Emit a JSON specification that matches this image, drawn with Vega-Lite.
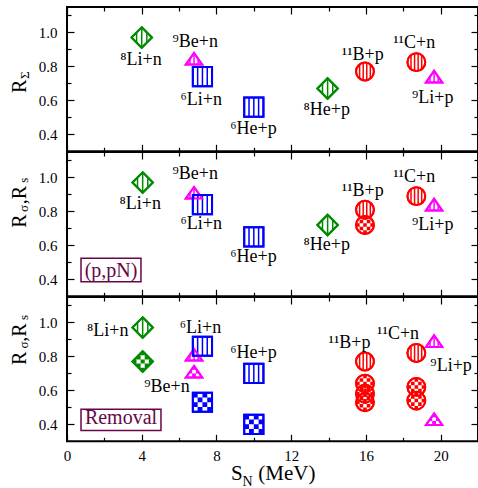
{
"$schema": "https://vega.github.io/schema/vega-lite/v6.json",
"padding": {"left": 8, "top": 5, "right": 0, "bottom": 0},
"bounds": "flush",
"spacing": 0,
"config": {
  "view": {"stroke": "black", "strokeWidth": 2},
  "axis": {"domain": false, "grid": false, "tickColor": "black", "tickWidth": 1.2, "labelFont": "Liberation Serif", "labelFontSize": 15, "labelColor": "black", "labelFlush": false, "titleFont": "Liberation Serif", "titleColor": "black", "titleFontWeight": "normal"},
  "text": {"font": "Liberation Serif"}
},
"datasets": {
  "p1": [
    {"x": 4.0, "y": 0.97, "sym": "diamond", "pat": "stripe"},
    {"x": 6.8, "y": 0.845, "sym": "triangle", "pat": "stripe"},
    {"x": 7.25, "y": 0.74, "sym": "square", "pat": "stripe"},
    {"x": 10.0, "y": 0.56, "sym": "square", "pat": "stripe"},
    {"x": 13.95, "y": 0.67, "sym": "diamond", "pat": "stripe"},
    {"x": 15.95, "y": 0.77, "sym": "circle", "pat": "stripe"},
    {"x": 18.7, "y": 0.825, "sym": "circle", "pat": "stripe"},
    {"x": 19.65, "y": 0.74, "sym": "triangle", "pat": "stripe"}
  ],
  "p2": [
    {"x": 4.05, "y": 0.97, "sym": "diamond", "pat": "stripe"},
    {"x": 6.8, "y": 0.91, "sym": "triangle", "pat": "stripe"},
    {"x": 7.25, "y": 0.84, "sym": "square", "pat": "stripe"},
    {"x": 10.0, "y": 0.65, "sym": "square", "pat": "stripe"},
    {"x": 13.95, "y": 0.72, "sym": "diamond", "pat": "stripe"},
    {"x": 15.95, "y": 0.81, "sym": "circle", "pat": "stripe"},
    {"x": 15.95, "y": 0.72, "sym": "circle", "pat": "checker"},
    {"x": 18.7, "y": 0.89, "sym": "circle", "pat": "stripe"},
    {"x": 19.65, "y": 0.84, "sym": "triangle", "pat": "stripe"}
  ],
  "p3": [
    {"x": 4.05, "y": 0.97, "sym": "diamond", "pat": "stripe"},
    {"x": 4.05, "y": 0.77, "sym": "diamond", "pat": "checker"},
    {"x": 6.8, "y": 0.81, "sym": "triangle", "pat": "stripe"},
    {"x": 6.8, "y": 0.71, "sym": "triangle", "pat": "checker"},
    {"x": 7.25, "y": 0.86, "sym": "square", "pat": "stripe"},
    {"x": 7.25, "y": 0.53, "sym": "square", "pat": "checker"},
    {"x": 10.0, "y": 0.70, "sym": "square", "pat": "stripe"},
    {"x": 10.0, "y": 0.40, "sym": "square", "pat": "checker"},
    {"x": 15.95, "y": 0.77, "sym": "circle", "pat": "stripe"},
    {"x": 15.95, "y": 0.64, "sym": "circle", "pat": "checker"},
    {"x": 15.95, "y": 0.58, "sym": "circle", "pat": "checker"},
    {"x": 15.95, "y": 0.53, "sym": "circle", "pat": "checker"},
    {"x": 18.7, "y": 0.82, "sym": "circle", "pat": "stripe"},
    {"x": 18.7, "y": 0.62, "sym": "circle", "pat": "checker"},
    {"x": 18.7, "y": 0.54, "sym": "circle", "pat": "checker"},
    {"x": 19.65, "y": 0.89, "sym": "triangle", "pat": "stripe"},
    {"x": 19.65, "y": 0.43, "sym": "triangle", "pat": "checker"}
  ],
  "l1": [
    {"lab": "⁸Li+n", "lx": 2.85, "ly": 0.806},
    {"lab": "⁹Be+n", "lx": 5.65, "ly": 0.914},
    {"lab": "⁶Li+n", "lx": 6.08, "ly": 0.575},
    {"lab": "⁶He+p", "lx": 8.74, "ly": 0.404},
    {"lab": "⁸He+p", "lx": 12.66, "ly": 0.516},
    {"lab": "¹¹B+p", "lx": 14.71, "ly": 0.839},
    {"lab": "¹¹C+n", "lx": 17.46, "ly": 0.908},
    {"lab": "⁹Li+p", "lx": 18.47, "ly": 0.584}
  ],
  "l2": [
    {"lab": "⁸Li+n", "lx": 2.81, "ly": 0.813},
    {"lab": "⁹Be+n", "lx": 5.65, "ly": 0.989},
    {"lab": "⁶Li+n", "lx": 6.08, "ly": 0.699},
    {"lab": "⁶He+p", "lx": 8.74, "ly": 0.503},
    {"lab": "⁸He+p", "lx": 12.66, "ly": 0.572},
    {"lab": "¹¹B+p", "lx": 14.71, "ly": 0.891},
    {"lab": "¹¹C+n", "lx": 17.46, "ly": 0.974},
    {"lab": "⁹Li+p", "lx": 18.47, "ly": 0.689}
  ],
  "l3": [
    {"lab": "⁸Li+n", "lx": 1.07, "ly": 0.92},
    {"lab": "⁶Li+n", "lx": 6.04, "ly": 0.935},
    {"lab": "⁶He+p", "lx": 8.74, "ly": 0.788},
    {"lab": "⁹Be+n", "lx": 4.14, "ly": 0.592},
    {"lab": "¹¹B+p", "lx": 14.0, "ly": 0.851},
    {"lab": "¹¹C+n", "lx": 16.6, "ly": 0.90},
    {"lab": "⁹Li+p", "lx": 19.45, "ly": 0.714}
  ],
  "b2": [{"t": "(p,pN)", "bx1": 0.75, "bx2": 3.96, "by1": 0.385, "by2": 0.524, "tx": 2.36, "ty": 0.415}],
  "b3": [{"t": "Removal", "bx1": 0.75, "bx2": 5.03, "by1": 0.363, "by2": 0.489, "tx": 2.89, "ty": 0.40}]
},
"vconcat": [
{
  "width": 411, "height": 144.3,
  "data": {"name": "p1"},
  "resolve": {"axis": {"x": "independent", "y": "independent"}, "scale": {"shape": "independent"}},
  "layer": [
    {
      "mark": {"type": "point", "filled": true, "fill": "white", "strokeWidth": 2, "opacity": 1},
      "encoding": {
        "x": {"field": "x", "type": "quantitative", "scale": {"domain": [0, 22], "nice": false, "zero": false}, "axis": {"orient": "bottom", "values": [0, 4, 8, 12, 16, 20], "tickSize": -7, "labels": false, "title": null}},
        "y": {"field": "y", "type": "quantitative", "scale": {"domain": [0.3, 1.15], "nice": false, "zero": false}, "axis": {"orient": "left", "values": [0.4, 0.6, 0.8, 1.0], "format": ".1f", "tickSize": -7, "labelPadding": 17, "title": "R", "titleFontSize": 20, "titleX": -41.6, "titleY": 85.5, "titleAlign": "left", "titleBaseline": "alphabetic", "titleAngle": 270}},
        "shape": {"field": "sym", "type": "nominal", "legend": null, "scale": {"domain": ["diamond", "square", "circle", "triangle"], "range": ["M0,-1L1,0L0,1L-1,0Z", "M-1,-1L1,-1L1,1L-1,1Z", "M-1,0A1,1,0,1,1,1,0A1,1,0,1,1,-1,0Z", "M0,-0.71L1,0.71L-1,0.71Z"]}},
        "size": {"field": "sym", "type": "nominal", "legend": null, "scale": {"domain": ["diamond", "square", "circle", "triangle"], "range": [420, 266, 361, 441]}},
        "stroke": {"field": "sym", "type": "nominal", "legend": null, "scale": {"domain": ["diamond", "square", "circle", "triangle"], "range": ["#008B00", "#0000FF", "#FF0000", "#FF00FF"]}}
      }
    },
    {
      "transform": [{"filter": "datum.pat === 'stripe'"}],
      "mark": {"type": "point", "filled": false, "strokeWidth": 1.5, "opacity": 1},
      "encoding": {
        "x": {"field": "x", "type": "quantitative", "axis": {"orient": "top", "values": [0, 4, 8, 12, 16, 20], "tickSize": -7, "labels": false, "title": null}},
        "y": {"field": "y", "type": "quantitative", "axis": {"orient": "right", "values": [0.4, 0.6, 0.8, 1.0], "tickSize": -7, "labels": false, "title": null}},
        "shape": {"field": "sym", "type": "nominal", "legend": null, "scale": {"domain": ["diamond", "square", "circle", "triangle"], "range": ["M-0.5,-0.5L-0.5,0.5M0,-1L0,1M0.5,-0.5L0.5,0.5", "M-0.5,-1L-0.5,1M0,-1L0,1M0.5,-1L0.5,1", "M-0.6,-0.8L-0.6,0.8M-0.2,-0.98L-0.2,0.98M0.2,-0.98L0.2,0.98M0.6,-0.8L0.6,0.8", "M-0.5,0L-0.5,0.71M0,-0.71L0,0.71M0.5,0L0.5,0.71"]}},
        "size": {"field": "sym", "type": "nominal", "legend": null},
        "stroke": {"field": "sym", "type": "nominal", "legend": null}
      }
    },
    {
      "transform": [{"filter": "datum.pat === 'checker'"}],
      "mark": {"type": "point", "filled": true, "strokeWidth": 0, "opacity": 1},
      "encoding": {
        "x": {"field": "x", "type": "quantitative", "axis": {"orient": "bottom", "values": [2, 6, 10, 14, 18], "tickSize": -4, "labels": false, "title": null}},
        "y": {"field": "y", "type": "quantitative", "axis": {"orient": "left", "values": [0.5, 0.7, 0.9, 1.1], "tickSize": -4, "labels": false, "title": "Σ", "titleFontSize": 13, "titleX": -39, "titleY": 71.5, "titleAlign": "left", "titleBaseline": "alphabetic", "titleAngle": 270}},
        "shape": {"field": "sym", "type": "nominal", "legend": null, "scale": {"domain": ["diamond", "square", "circle", "triangle"], "range": ["M-1,0L-0.8,-0.2L-0.6,-0.2L-0.6,0.2L-0.8,0.2Z M1,0L0.8,-0.2L0.6,-0.2L0.6,0.2L0.8,0.2Z M0,-1L0.2,-0.8L0.2,-0.6L-0.2,-0.6L-0.2,-0.8Z M0,1L0.2,0.8L0.2,0.6L-0.2,0.6L-0.2,0.8Z M-0.6,-0.4L-0.4,-0.6L-0.2,-0.6L-0.2,-0.2L-0.6,-0.2Z M0.6,-0.4L0.4,-0.6L0.2,-0.6L0.2,-0.2L0.6,-0.2Z M-0.6,0.4L-0.4,0.6L-0.2,0.6L-0.2,0.2L-0.6,0.2Z M0.6,0.4L0.4,0.6L0.2,0.6L0.2,0.2L0.6,0.2Z M-0.2,-0.2L0.2,-0.2L0.2,0.2L-0.2,0.2Z", "M-1,-1h0.5v0.5h-0.5Z M0,-1h0.5v0.5h-0.5Z M-0.5,-0.5h0.5v0.5h-0.5Z M0.5,-0.5h0.5v0.5h-0.5Z M-1,0h0.5v0.5h-0.5Z M0,0h0.5v0.5h-0.5Z M-0.5,0.5h0.5v0.5h-0.5Z M0.5,0.5h0.5v0.5h-0.5Z", "M-1,-0.2h0.4v0.4h-0.4Z M-0.6,-0.6h0.4v0.4h-0.4Z M-0.6,0.2h0.4v0.4h-0.4Z M-0.2,-1h0.4v0.4h-0.4Z M-0.2,-0.2h0.4v0.4h-0.4Z M-0.2,0.6h0.4v0.4h-0.4Z M0.2,-0.6h0.4v0.4h-0.4Z M0.2,0.2h0.4v0.4h-0.4Z M0.6,-0.2h0.4v0.4h-0.4Z", "M0,-0.71L0.235,-0.376L0.235,-0.24L-0.235,-0.24L-0.235,-0.376Z M0.235,-0.24L0.33,-0.24L0.662,0.23L0.235,0.23Z M-0.235,-0.24L-0.33,-0.24L-0.662,0.23L-0.235,0.23Z M-0.235,0.23L0.235,0.23L0.235,0.71L-0.235,0.71Z M0.705,0.291L1,0.71L0.705,0.71Z M-0.705,0.291L-1,0.71L-0.705,0.71Z"]}},
        "size": {"field": "sym", "type": "nominal", "legend": null},
        "fill": {"field": "sym", "type": "nominal", "legend": null, "scale": {"domain": ["diamond", "square", "circle", "triangle"], "range": ["#008B00", "#0000FF", "#FF0000", "#FF00FF"]}}
      }
    },
    {
      "mark": {"type": "point", "filled": false, "strokeWidth": 2, "opacity": 1},
      "encoding": {
        "x": {"field": "x", "type": "quantitative", "axis": null},
        "y": {"field": "y", "type": "quantitative", "axis": null},
        "shape": {"field": "sym", "type": "nominal", "legend": null, "scale": {"domain": ["diamond", "square", "circle", "triangle"], "range": ["M0,-1L1,0L0,1L-1,0Z", "M-1,-1L1,-1L1,1L-1,1Z", "M-1,0A1,1,0,1,1,1,0A1,1,0,1,1,-1,0Z", "M0,-0.71L1,0.71L-1,0.71Z"]}},
        "size": {"field": "sym", "type": "nominal", "legend": null},
        "stroke": {"field": "sym", "type": "nominal", "legend": null}
      }
    },
    {
      "data": {"name": "l1"},
      "mark": {"type": "text", "align": "left", "baseline": "alphabetic", "fontSize": 18, "font": "Liberation Serif", "color": "black"},
      "encoding": {
        "x": {"field": "lx", "type": "quantitative", "axis": {"orient": "top", "values": [2, 6, 10, 14, 18], "tickSize": -4, "labels": false, "title": null}},
        "y": {"field": "ly", "type": "quantitative", "axis": {"orient": "right", "values": [0.5, 0.7, 0.9, 1.1], "tickSize": -4, "labels": false, "title": null}},
        "text": {"field": "lab"}
      }
    }
  ]
},
{
  "width": 411, "height": 144.3,
  "data": {"name": "p2"},
  "resolve": {"axis": {"x": "independent", "y": "independent"}, "scale": {"shape": "independent"}},
  "layer": [
    {
      "mark": {"type": "point", "filled": true, "fill": "white", "strokeWidth": 2, "opacity": 1},
      "encoding": {
        "x": {"field": "x", "type": "quantitative", "scale": {"domain": [0, 22], "nice": false, "zero": false}, "axis": {"orient": "bottom", "values": [0, 4, 8, 12, 16, 20], "tickSize": -7, "labels": false, "title": null}},
        "y": {"field": "y", "type": "quantitative", "scale": {"domain": [0.3, 1.15], "nice": false, "zero": false}, "axis": {"orient": "left", "values": [0.4, 0.6, 0.8, 1.0], "format": ".1f", "tickSize": -7, "labelPadding": 17, "title": "R\u00a0\u00a0,R", "titleFontSize": 20, "titleX": -41.6, "titleY": 75.2, "titleAlign": "left", "titleBaseline": "alphabetic", "titleAngle": 270}},
        "shape": {"field": "sym", "type": "nominal", "legend": null, "scale": {"domain": ["diamond", "square", "circle", "triangle"], "range": ["M0,-1L1,0L0,1L-1,0Z", "M-1,-1L1,-1L1,1L-1,1Z", "M-1,0A1,1,0,1,1,1,0A1,1,0,1,1,-1,0Z", "M0,-0.71L1,0.71L-1,0.71Z"]}},
        "size": {"field": "sym", "type": "nominal", "legend": null, "scale": {"domain": ["diamond", "square", "circle", "triangle"], "range": [420, 266, 361, 441]}},
        "stroke": {"field": "sym", "type": "nominal", "legend": null, "scale": {"domain": ["diamond", "square", "circle", "triangle"], "range": ["#008B00", "#0000FF", "#FF0000", "#FF00FF"]}}
      }
    },
    {
      "transform": [{"filter": "datum.pat === 'stripe'"}],
      "mark": {"type": "point", "filled": false, "strokeWidth": 1.5, "opacity": 1},
      "encoding": {
        "x": {"field": "x", "type": "quantitative", "axis": {"orient": "top", "values": [0, 4, 8, 12, 16, 20], "tickSize": -7, "labels": false, "title": null}},
        "y": {"field": "y", "type": "quantitative", "axis": {"orient": "right", "values": [0.4, 0.6, 0.8, 1.0], "tickSize": -7, "labels": false, "title": null}},
        "shape": {"field": "sym", "type": "nominal", "legend": null, "scale": {"domain": ["diamond", "square", "circle", "triangle"], "range": ["M-0.5,-0.5L-0.5,0.5M0,-1L0,1M0.5,-0.5L0.5,0.5", "M-0.5,-1L-0.5,1M0,-1L0,1M0.5,-1L0.5,1", "M-0.6,-0.8L-0.6,0.8M-0.2,-0.98L-0.2,0.98M0.2,-0.98L0.2,0.98M0.6,-0.8L0.6,0.8", "M-0.5,0L-0.5,0.71M0,-0.71L0,0.71M0.5,0L0.5,0.71"]}},
        "size": {"field": "sym", "type": "nominal", "legend": null},
        "stroke": {"field": "sym", "type": "nominal", "legend": null}
      }
    },
    {
      "transform": [{"filter": "datum.pat === 'checker'"}],
      "mark": {"type": "point", "filled": true, "strokeWidth": 0, "opacity": 1},
      "encoding": {
        "x": {"field": "x", "type": "quantitative", "axis": {"orient": "bottom", "values": [2, 6, 10, 14, 18], "tickSize": -4, "labels": false, "title": null}},
        "y": {"field": "y", "type": "quantitative", "axis": {"orient": "left", "values": [0.5, 0.7, 0.9, 1.1], "tickSize": -4, "labels": false, "title": "σ", "titleFontSize": 13, "titleX": -40, "titleY": 59.5, "titleAlign": "left", "titleBaseline": "alphabetic", "titleAngle": 270}},
        "shape": {"field": "sym", "type": "nominal", "legend": null, "scale": {"domain": ["diamond", "square", "circle", "triangle"], "range": ["M-1,0L-0.8,-0.2L-0.6,-0.2L-0.6,0.2L-0.8,0.2Z M1,0L0.8,-0.2L0.6,-0.2L0.6,0.2L0.8,0.2Z M0,-1L0.2,-0.8L0.2,-0.6L-0.2,-0.6L-0.2,-0.8Z M0,1L0.2,0.8L0.2,0.6L-0.2,0.6L-0.2,0.8Z M-0.6,-0.4L-0.4,-0.6L-0.2,-0.6L-0.2,-0.2L-0.6,-0.2Z M0.6,-0.4L0.4,-0.6L0.2,-0.6L0.2,-0.2L0.6,-0.2Z M-0.6,0.4L-0.4,0.6L-0.2,0.6L-0.2,0.2L-0.6,0.2Z M0.6,0.4L0.4,0.6L0.2,0.6L0.2,0.2L0.6,0.2Z M-0.2,-0.2L0.2,-0.2L0.2,0.2L-0.2,0.2Z", "M-1,-1h0.5v0.5h-0.5Z M0,-1h0.5v0.5h-0.5Z M-0.5,-0.5h0.5v0.5h-0.5Z M0.5,-0.5h0.5v0.5h-0.5Z M-1,0h0.5v0.5h-0.5Z M0,0h0.5v0.5h-0.5Z M-0.5,0.5h0.5v0.5h-0.5Z M0.5,0.5h0.5v0.5h-0.5Z", "M-1,-0.2h0.4v0.4h-0.4Z M-0.6,-0.6h0.4v0.4h-0.4Z M-0.6,0.2h0.4v0.4h-0.4Z M-0.2,-1h0.4v0.4h-0.4Z M-0.2,-0.2h0.4v0.4h-0.4Z M-0.2,0.6h0.4v0.4h-0.4Z M0.2,-0.6h0.4v0.4h-0.4Z M0.2,0.2h0.4v0.4h-0.4Z M0.6,-0.2h0.4v0.4h-0.4Z", "M0,-0.71L0.235,-0.376L0.235,-0.24L-0.235,-0.24L-0.235,-0.376Z M0.235,-0.24L0.33,-0.24L0.662,0.23L0.235,0.23Z M-0.235,-0.24L-0.33,-0.24L-0.662,0.23L-0.235,0.23Z M-0.235,0.23L0.235,0.23L0.235,0.71L-0.235,0.71Z M0.705,0.291L1,0.71L0.705,0.71Z M-0.705,0.291L-1,0.71L-0.705,0.71Z"]}},
        "size": {"field": "sym", "type": "nominal", "legend": null},
        "fill": {"field": "sym", "type": "nominal", "legend": null, "scale": {"domain": ["diamond", "square", "circle", "triangle"], "range": ["#008B00", "#0000FF", "#FF0000", "#FF00FF"]}}
      }
    },
    {
      "mark": {"type": "point", "filled": false, "strokeWidth": 2, "opacity": 1},
      "encoding": {
        "x": {"field": "x", "type": "quantitative", "axis": null},
        "y": {"field": "y", "type": "quantitative", "axis": null},
        "shape": {"field": "sym", "type": "nominal", "legend": null, "scale": {"domain": ["diamond", "square", "circle", "triangle"], "range": ["M0,-1L1,0L0,1L-1,0Z", "M-1,-1L1,-1L1,1L-1,1Z", "M-1,0A1,1,0,1,1,1,0A1,1,0,1,1,-1,0Z", "M0,-0.71L1,0.71L-1,0.71Z"]}},
        "size": {"field": "sym", "type": "nominal", "legend": null},
        "stroke": {"field": "sym", "type": "nominal", "legend": null}
      }
    },
    {
      "data": {"name": "l2"},
      "mark": {"type": "text", "align": "left", "baseline": "alphabetic", "fontSize": 18, "font": "Liberation Serif", "color": "black"},
      "encoding": {
        "x": {"field": "lx", "type": "quantitative", "axis": {"orient": "top", "values": [2, 6, 10, 14, 18], "tickSize": -4, "labels": false, "title": null}},
        "y": {"field": "ly", "type": "quantitative", "axis": {"orient": "right", "values": [0.5, 0.7, 0.9, 1.1], "tickSize": -4, "labels": false, "title": null}},
        "text": {"field": "lab"}
      }
    },
    {
      "data": {"name": "b2"},
      "mark": {"type": "rect", "fill": "transparent", "stroke": "#670748", "strokeWidth": 1.5},
      "encoding": {
        "x": {"field": "bx1", "type": "quantitative", "axis": null},
        "x2": {"field": "bx2"},
        "y": {"field": "by1", "type": "quantitative", "axis": {"orient": "left", "ticks": false, "labels": false, "title": "s", "titleFontSize": 13, "titleX": -40, "titleY": 30.2, "titleAlign": "left", "titleBaseline": "alphabetic", "titleAngle": 270}},
        "y2": {"field": "by2"}
      }
    },
    {
      "data": {"name": "b2"},
      "mark": {"type": "text", "align": "center", "baseline": "alphabetic", "fontSize": 20, "font": "Liberation Serif", "color": "#670748"},
      "encoding": {
        "x": {"field": "tx", "type": "quantitative", "axis": null},
        "y": {"field": "ty", "type": "quantitative", "axis": null},
        "text": {"field": "t"}
      }
    }
  ]
},
{
  "width": 411, "height": 144.3,
  "data": {"name": "p3"},
  "resolve": {"axis": {"x": "independent", "y": "independent"}, "scale": {"shape": "independent"}},
  "layer": [
    {
      "mark": {"type": "point", "filled": true, "fill": "white", "strokeWidth": 2, "opacity": 1},
      "encoding": {
        "x": {"field": "x", "type": "quantitative", "scale": {"domain": [0, 22], "nice": false, "zero": false}, "axis": {"orient": "bottom", "values": [0, 4, 8, 12, 16, 20], "format": "d", "tickSize": -7, "labelPadding": 14, "title": "S\u00a0\u00a0\u00a0(MeV)", "titleFontSize": 21, "titleX": 163.4, "titleY": 38, "titleAlign": "left", "titleBaseline": "alphabetic"}},
        "y": {"field": "y", "type": "quantitative", "scale": {"domain": [0.3, 1.15], "nice": false, "zero": false}, "axis": {"orient": "left", "values": [0.4, 0.6, 0.8, 1.0], "format": ".1f", "tickSize": -7, "labelPadding": 17, "title": "R\u00a0\u00a0,R", "titleFontSize": 20, "titleX": -41.6, "titleY": 67.6, "titleAlign": "left", "titleBaseline": "alphabetic", "titleAngle": 270}},
        "shape": {"field": "sym", "type": "nominal", "legend": null, "scale": {"domain": ["diamond", "square", "circle", "triangle"], "range": ["M0,-1L1,0L0,1L-1,0Z", "M-1,-1L1,-1L1,1L-1,1Z", "M-1,0A1,1,0,1,1,1,0A1,1,0,1,1,-1,0Z", "M0,-0.71L1,0.71L-1,0.71Z"]}},
        "size": {"field": "sym", "type": "nominal", "legend": null, "scale": {"domain": ["diamond", "square", "circle", "triangle"], "range": [420, 266, 361, 441]}},
        "stroke": {"field": "sym", "type": "nominal", "legend": null, "scale": {"domain": ["diamond", "square", "circle", "triangle"], "range": ["#008B00", "#0000FF", "#FF0000", "#FF00FF"]}}
      }
    },
    {
      "transform": [{"filter": "datum.pat === 'stripe'"}],
      "mark": {"type": "point", "filled": false, "strokeWidth": 1.5, "opacity": 1},
      "encoding": {
        "x": {"field": "x", "type": "quantitative", "axis": {"orient": "top", "values": [0, 4, 8, 12, 16, 20], "tickSize": -7, "labels": false, "title": null}},
        "y": {"field": "y", "type": "quantitative", "axis": {"orient": "right", "values": [0.4, 0.6, 0.8, 1.0], "tickSize": -7, "labels": false, "title": null}},
        "shape": {"field": "sym", "type": "nominal", "legend": null, "scale": {"domain": ["diamond", "square", "circle", "triangle"], "range": ["M-0.5,-0.5L-0.5,0.5M0,-1L0,1M0.5,-0.5L0.5,0.5", "M-0.5,-1L-0.5,1M0,-1L0,1M0.5,-1L0.5,1", "M-0.6,-0.8L-0.6,0.8M-0.2,-0.98L-0.2,0.98M0.2,-0.98L0.2,0.98M0.6,-0.8L0.6,0.8", "M-0.5,0L-0.5,0.71M0,-0.71L0,0.71M0.5,0L0.5,0.71"]}},
        "size": {"field": "sym", "type": "nominal", "legend": null},
        "stroke": {"field": "sym", "type": "nominal", "legend": null}
      }
    },
    {
      "transform": [{"filter": "datum.pat === 'checker'"}],
      "mark": {"type": "point", "filled": true, "strokeWidth": 0, "opacity": 1},
      "encoding": {
        "x": {"field": "x", "type": "quantitative", "axis": {"orient": "bottom", "values": [2, 6, 10, 14, 18], "tickSize": -4, "labels": false, "title": "N", "titleFontSize": 14, "titleX": 175, "titleY": 44.5, "titleAlign": "left", "titleBaseline": "alphabetic"}},
        "y": {"field": "y", "type": "quantitative", "axis": {"orient": "left", "values": [0.5, 0.7, 0.9, 1.1], "tickSize": -4, "labels": false, "title": "σ", "titleFontSize": 13, "titleX": -40, "titleY": 50.9, "titleAlign": "left", "titleBaseline": "alphabetic", "titleAngle": 270}},
        "shape": {"field": "sym", "type": "nominal", "legend": null, "scale": {"domain": ["diamond", "square", "circle", "triangle"], "range": ["M-1,0L-0.8,-0.2L-0.6,-0.2L-0.6,0.2L-0.8,0.2Z M1,0L0.8,-0.2L0.6,-0.2L0.6,0.2L0.8,0.2Z M0,-1L0.2,-0.8L0.2,-0.6L-0.2,-0.6L-0.2,-0.8Z M0,1L0.2,0.8L0.2,0.6L-0.2,0.6L-0.2,0.8Z M-0.6,-0.4L-0.4,-0.6L-0.2,-0.6L-0.2,-0.2L-0.6,-0.2Z M0.6,-0.4L0.4,-0.6L0.2,-0.6L0.2,-0.2L0.6,-0.2Z M-0.6,0.4L-0.4,0.6L-0.2,0.6L-0.2,0.2L-0.6,0.2Z M0.6,0.4L0.4,0.6L0.2,0.6L0.2,0.2L0.6,0.2Z M-0.2,-0.2L0.2,-0.2L0.2,0.2L-0.2,0.2Z", "M-1,-1h0.5v0.5h-0.5Z M0,-1h0.5v0.5h-0.5Z M-0.5,-0.5h0.5v0.5h-0.5Z M0.5,-0.5h0.5v0.5h-0.5Z M-1,0h0.5v0.5h-0.5Z M0,0h0.5v0.5h-0.5Z M-0.5,0.5h0.5v0.5h-0.5Z M0.5,0.5h0.5v0.5h-0.5Z", "M-1,-0.2h0.4v0.4h-0.4Z M-0.6,-0.6h0.4v0.4h-0.4Z M-0.6,0.2h0.4v0.4h-0.4Z M-0.2,-1h0.4v0.4h-0.4Z M-0.2,-0.2h0.4v0.4h-0.4Z M-0.2,0.6h0.4v0.4h-0.4Z M0.2,-0.6h0.4v0.4h-0.4Z M0.2,0.2h0.4v0.4h-0.4Z M0.6,-0.2h0.4v0.4h-0.4Z", "M0,-0.71L0.235,-0.376L0.235,-0.24L-0.235,-0.24L-0.235,-0.376Z M0.235,-0.24L0.33,-0.24L0.662,0.23L0.235,0.23Z M-0.235,-0.24L-0.33,-0.24L-0.662,0.23L-0.235,0.23Z M-0.235,0.23L0.235,0.23L0.235,0.71L-0.235,0.71Z M0.705,0.291L1,0.71L0.705,0.71Z M-0.705,0.291L-1,0.71L-0.705,0.71Z"]}},
        "size": {"field": "sym", "type": "nominal", "legend": null},
        "fill": {"field": "sym", "type": "nominal", "legend": null, "scale": {"domain": ["diamond", "square", "circle", "triangle"], "range": ["#008B00", "#0000FF", "#FF0000", "#FF00FF"]}}
      }
    },
    {
      "mark": {"type": "point", "filled": false, "strokeWidth": 2, "opacity": 1},
      "encoding": {
        "x": {"field": "x", "type": "quantitative", "axis": null},
        "y": {"field": "y", "type": "quantitative", "axis": null},
        "shape": {"field": "sym", "type": "nominal", "legend": null, "scale": {"domain": ["diamond", "square", "circle", "triangle"], "range": ["M0,-1L1,0L0,1L-1,0Z", "M-1,-1L1,-1L1,1L-1,1Z", "M-1,0A1,1,0,1,1,1,0A1,1,0,1,1,-1,0Z", "M0,-0.71L1,0.71L-1,0.71Z"]}},
        "size": {"field": "sym", "type": "nominal", "legend": null},
        "stroke": {"field": "sym", "type": "nominal", "legend": null}
      }
    },
    {
      "data": {"name": "l3"},
      "mark": {"type": "text", "align": "left", "baseline": "alphabetic", "fontSize": 18, "font": "Liberation Serif", "color": "black"},
      "encoding": {
        "x": {"field": "lx", "type": "quantitative", "axis": {"orient": "top", "values": [2, 6, 10, 14, 18], "tickSize": -4, "labels": false, "title": null}},
        "y": {"field": "ly", "type": "quantitative", "axis": {"orient": "right", "values": [0.5, 0.7, 0.9, 1.1], "tickSize": -4, "labels": false, "title": null}},
        "text": {"field": "lab"}
      }
    },
    {
      "data": {"name": "b3"},
      "mark": {"type": "rect", "fill": "transparent", "stroke": "#670748", "strokeWidth": 1.5},
      "encoding": {
        "x": {"field": "bx1", "type": "quantitative", "axis": null},
        "x2": {"field": "bx2"},
        "y": {"field": "by1", "type": "quantitative", "axis": {"orient": "left", "ticks": false, "labels": false, "title": "s", "titleFontSize": 13, "titleX": -40, "titleY": 22.6, "titleAlign": "left", "titleBaseline": "alphabetic", "titleAngle": 270}},
        "y2": {"field": "by2"}
      }
    },
    {
      "data": {"name": "b3"},
      "mark": {"type": "text", "align": "center", "baseline": "alphabetic", "fontSize": 20, "font": "Liberation Serif", "color": "#670748"},
      "encoding": {
        "x": {"field": "tx", "type": "quantitative", "axis": null},
        "y": {"field": "ty", "type": "quantitative", "axis": null},
        "text": {"field": "t"}
      }
    }
  ]
}
]
}
